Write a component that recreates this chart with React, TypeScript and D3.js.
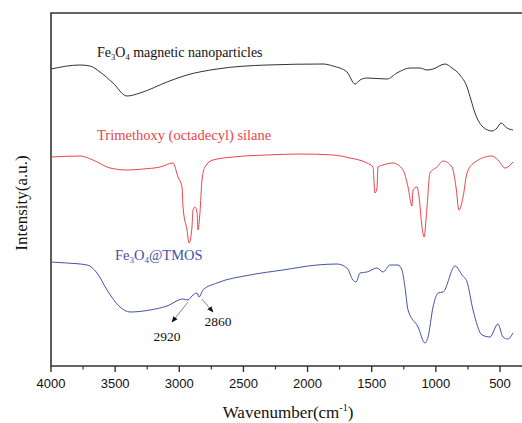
import React from 'react'
import * as d3 from 'd3'

// [wavenumber, intensity(a.u.)]
const fe3o4: [number, number][] = [
  [4000, 297], [3774, 301], [3696, 300], [3618, 294], [3517, 283], [3408, 270], [3306, 273],
  [3096, 284], [2940, 291], [2706, 297], [2316, 301], [1880, 302], [1802, 300], [1693, 294],
  [1630, 282], [1591, 286], [1537, 288], [1381, 287], [1303, 293], [1202, 298], [1124, 298],
  [1069, 296], [1022, 297], [929, 302], [874, 298], [812, 291], [757, 279], [726, 266],
  [695, 253], [632, 239], [562, 235], [523, 238], [492, 243], [446, 238], [399, 236],
]

const silane: [number, number][] = [
  [4000, 209], [3774, 210], [3673, 206], [3540, 198], [3408, 196], [3283, 197], [3150, 199],
  [3049, 203], [3010, 189], [2979, 179], [2971, 159], [2940, 136], [2924, 123], [2901, 139],
  [2893, 156], [2878, 159], [2862, 154], [2854, 136], [2839, 153], [2823, 186], [2800, 199],
  [2737, 206], [2581, 209], [2316, 211], [2059, 212], [1802, 211], [1669, 208], [1537, 203],
  [1490, 199], [1475, 173], [1459, 178], [1451, 199], [1412, 201], [1334, 203], [1256, 196],
  [1217, 179], [1186, 160], [1178, 176], [1147, 179], [1131, 169], [1108, 139], [1092, 129],
  [1069, 159], [1046, 193], [991, 199], [944, 205], [874, 199], [843, 179], [820, 156],
  [788, 169], [757, 193], [695, 204], [562, 210], [516, 206], [461, 198], [399, 204],
]

const fe3o4Tmos: [number, number][] = [
  [4000, 104], [3875, 103], [3719, 101], [3641, 93], [3563, 76], [3462, 59], [3384, 54],
  [3228, 56], [3096, 60], [2971, 67], [2932, 66], [2901, 70], [2862, 73], [2846, 69],
  [2815, 76], [2706, 83], [2449, 91], [2192, 96], [1927, 101], [1771, 102], [1693, 98],
  [1646, 86], [1622, 84], [1591, 93], [1537, 94], [1459, 98], [1412, 94], [1357, 101],
  [1295, 101], [1264, 96], [1241, 79], [1217, 56], [1139, 39], [1085, 23], [1061, 29],
  [1022, 59], [983, 73], [944, 74], [850, 100], [796, 91], [757, 84], [710, 56],
  [640, 31], [578, 29], [516, 42], [477, 29], [438, 27], [399, 33],
]

const majorTicks = [4000, 3500, 3000, 2500, 2000, 1500, 1000, 500]
const minorTicks = [3750, 3250, 2750, 2250, 1750, 1250, 750]

const W = 522
const H = 423
const left = 51
const top = 13
const bottom = 366

export default function App() {
  const x = d3.scaleLinear().domain([4000, 500]).range([left, 500])
  const y = d3.scaleLinear().domain([0, 353]).range([bottom, top])
  const line = d3.line<[number, number]>()
    .x(d => x(d[0]))
    .y(d => y(d[1]))
    .curve(d3.curveMonotoneX)

  const serif = '"Liberation Serif", "Times New Roman", serif'
  const sans = '"Liberation Sans", Arial, sans-serif'

  const arrows = [
    { from: [2932, 64], to: [3057, 44] },
    { from: [2823, 67], to: [2737, 54] },
  ]

  return (
    <svg width={W} height={H} style={{ position: 'fixed', left: 0, top: 0, background: '#fff' }}>
      <defs>
        <marker id="ah" viewBox="0 0 10 10" refX="9" refY="5" markerWidth="7" markerHeight="7" orient="auto">
          <path d="M0,1 L10,5 L0,9 z" fill="#111" />
        </marker>
      </defs>

      {/* frame */}
      <path d={`M${W + 5},${top} H${left} V${bottom} H${W + 5}`} fill="none" stroke="#333" strokeWidth={1.6} />

      {/* x ticks */}
      {majorTicks.map(t => (
        <g key={t}>
          <line x1={x(t)} x2={x(t)} y1={bottom} y2={bottom + 6} stroke="#333" strokeWidth={1.4} />
          <text x={x(t)} y={388} textAnchor="middle" fontFamily={sans} fontSize={13} fill="#111">{t}</text>
        </g>
      ))}
      {minorTicks.map(t => (
        <line key={t} x1={x(t)} x2={x(t)} y1={bottom} y2={bottom + 3.5} stroke="#333" strokeWidth={1.2} />
      ))}

      {/* spectra */}
      <path d={line(fe3o4) ?? ''} fill="none" stroke="#333" strokeWidth={1} />
      <path d={line(silane) ?? ''} fill="none" stroke="#e8454a" strokeWidth={1} />
      <path d={line(fe3o4Tmos) ?? ''} fill="none" stroke="#4253a8" strokeWidth={1} />

      {/* curve labels */}
      <text x={97} y={57} fontFamily={serif} fontSize={14} fill="#111">
        Fe<tspan fontSize={8.5} dy={3}>3</tspan><tspan dy={-3}>O</tspan><tspan fontSize={8.5} dy={3}>4</tspan><tspan dy={-3}> magnetic nanoparticles</tspan>
      </text>
      <text x={97} y={140} fontFamily={serif} fontSize={14.5} fill="#e8454a">Trimethoxy (octadecyl) silane</text>
      <text x={115} y={260} fontFamily={serif} fontSize={14.5} fill="#4253a8">
        Fe<tspan fontSize={9} dy={3}>3</tspan><tspan dy={-3}>O</tspan><tspan fontSize={9} dy={3}>4</tspan><tspan dy={-3}>@TMOS</tspan>
      </text>

      {/* annotations */}
      {arrows.map((a, i) => (
        <line key={i} x1={x(a.from[0])} y1={y(a.from[1])} x2={x(a.to[0])} y2={y(a.to[1])}
          stroke="#777" strokeWidth={0.9} markerEnd="url(#ah)" />
      ))}
      <text x={x(3096)} y={y(25)} textAnchor="middle" fontFamily={serif} fontSize={13.5} fill="#111">2920</text>
      <text x={x(2698)} y={y(40)} textAnchor="middle" fontFamily={serif} fontSize={13.5} fill="#111">2860</text>

      {/* axis titles */}
      <text x={288} y={418} textAnchor="middle" fontFamily={serif} fontSize={17} fill="#111">
        Wavenumber(cm<tspan fontSize={10} dy={-7}>-1</tspan><tspan dy={7}>)</tspan>
      </text>
      <text transform={`translate(27,203) rotate(-90)`} textAnchor="middle"
        fontFamily={serif} fontSize={17} fill="#111">Intensity(a.u.)</text>
    </svg>
  )
}
